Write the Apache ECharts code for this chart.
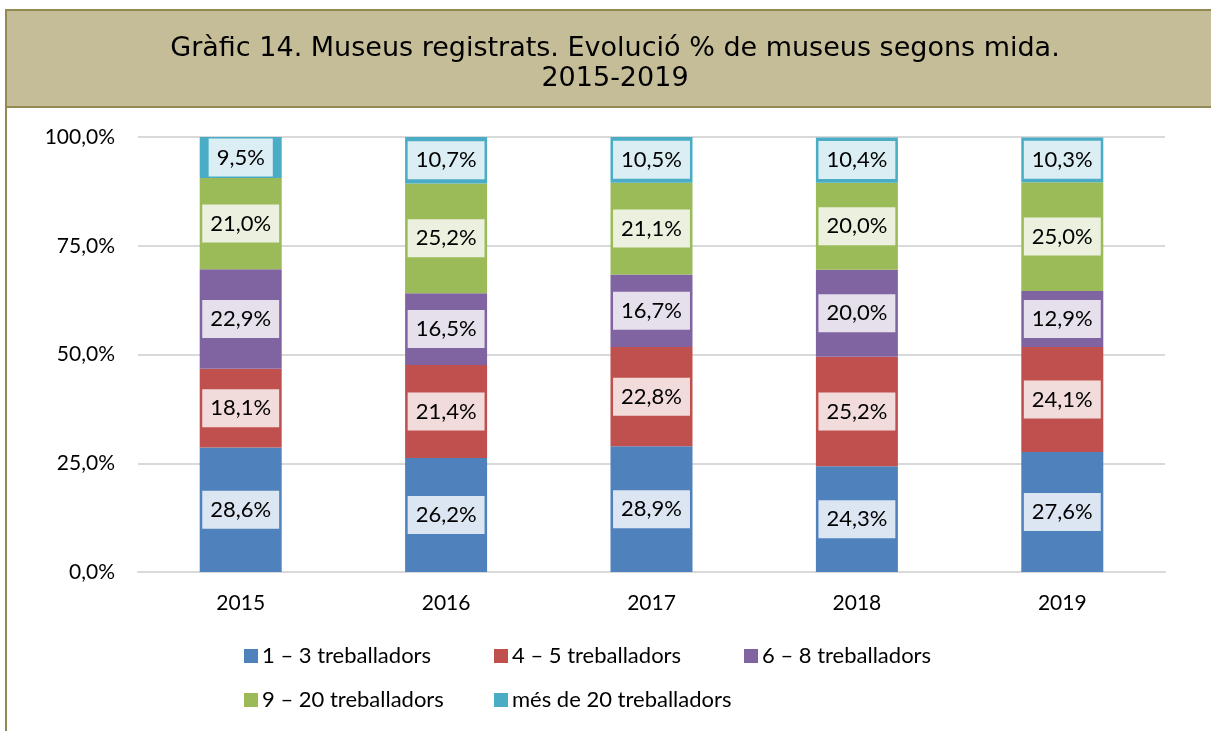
<!DOCTYPE html>
<html>
<head>
<meta charset="utf-8">
<script src="https://cdn.jsdelivr.net/npm/echarts@6/dist/echarts.min.js"></script>
<style>
    html, body { margin: 0; padding: 0; background: #fff; }
    #chart { width: 1211px; height: 731px; }
</style>
</head>
<body>
<div id="chart"></div>
<script>
// dades llegides del gràfic
const years = ['2015', '2016', '2017', '2018', '2019'];
const seriesNames = ['1 – 3 treballadors', '4 – 5 treballadors', '6 – 8 treballadors', '9 – 20 treballadors', 'més de 20 treballadors'];
const s1a3 = [28.6, 26.2, 28.9, 24.3, 27.6];
const s4a5 = [18.1, 21.4, 22.8, 25.2, 24.1];
const s6a8 = [22.9, 16.5, 16.7, 20.0, 12.9];
const s9a20 = [21.0, 25.2, 21.1, 20.0, 25.0];
const sMes20 = [9.5, 10.7, 10.5, 10.4, 10.3];
const yTicks = [0, 25, 50, 75, 100];

const colors = ['#4f81bd', '#c0504d', '#8064a2', '#9bbb59', '#4bacc6'];
const labelBg = ['#dce6f2', '#f2dcdb', '#e6e0ec', '#ebf1de', '#dbeef4'];
const allData = [s1a3, s4a5, s6a8, s9a20, sMes20];
const font = 'Lato, "Open Sans", sans-serif';

const fmt = (v) => v.toFixed(1).replace('.', ',') + '%';

let chart = echarts.init(document.getElementById('chart'));

// una llegenda per element, per alinear les columnes com a l'original
const legendPos = [[244, 645], [494, 645], [744, 645], [244, 689], [494, 689]];
const legends = seriesNames.map((name, i) => ({
    data: [name],
    left: legendPos[i][0],
    top: legendPos[i][1],
    padding: 0,
    icon: 'rect',
    itemWidth: 14,
    itemHeight: 14,
    itemGap: 4,
    textStyle: { fontFamily: font, fontSize: 22, color: '#000', padding: [0, 0, 0, -1] }
}));

let option = {
    animation: false,
    backgroundColor: '#fff',
    graphic: [
        {
            type: 'rect',
            shape: { x: 6, y: 10, width: 1220, height: 97 },
            style: { fill: '#c4bd97', stroke: '#938953', lineWidth: 2 },
            z: -10
        },
        {
            type: 'line',
            shape: { x1: 6, y1: 107, x2: 6, y2: 731 },
            style: { stroke: '#938953', lineWidth: 2 }
        }
    ],
    title: {
        text: 'Gràfic 14. Museus registrats. Evolució % de museus segons mida.\n2015-2019',
        left: 610,
        top: 29,
        textAlign: 'center',
        textStyle: {
            fontFamily: '"DejaVu Sans", Verdana, sans-serif',
            fontSize: 27,
            fontWeight: 'normal',
            color: '#000',
            lineHeight: 30
        }
    },
    legend: legends,
    grid: { left: 138, right: 46, top: 137, bottom: 159 },
    xAxis: {
        type: 'category',
        data: years,
        axisLine: { lineStyle: { color: '#d9d9d9', width: 2 } },
        axisTick: { show: false },
        axisLabel: { fontFamily: font, fontSize: 21, color: '#000', margin: 21 }
    },
    yAxis: {
        type: 'value',
        min: yTicks[0],
        max: yTicks[yTicks.length - 1],
        interval: 25,
        axisLine: { show: false },
        axisTick: { show: false },
        splitLine: { lineStyle: { color: '#d9d9d9', width: 2 } },
        axisLabel: {
            fontFamily: font, fontSize: 21, color: '#000', margin: 23,
            formatter: (v) => fmt(v)
        }
    },
    series: allData.map((d, i) => ({
        name: seriesNames[i],
        type: 'bar',
        stack: 'total',
        data: d,
        barWidth: 82,
        itemStyle: { color: colors[i] },
        label: {
            show: true,
            position: 'inside',
            formatter: (p) => fmt(p.value),
            fontFamily: font,
            fontSize: 22,
            color: '#000',
            backgroundColor: labelBg[i],
            padding: [9, 8, 7, 8]
        }
    }))
};

chart.setOption(option);
</script>
</body>
</html>
